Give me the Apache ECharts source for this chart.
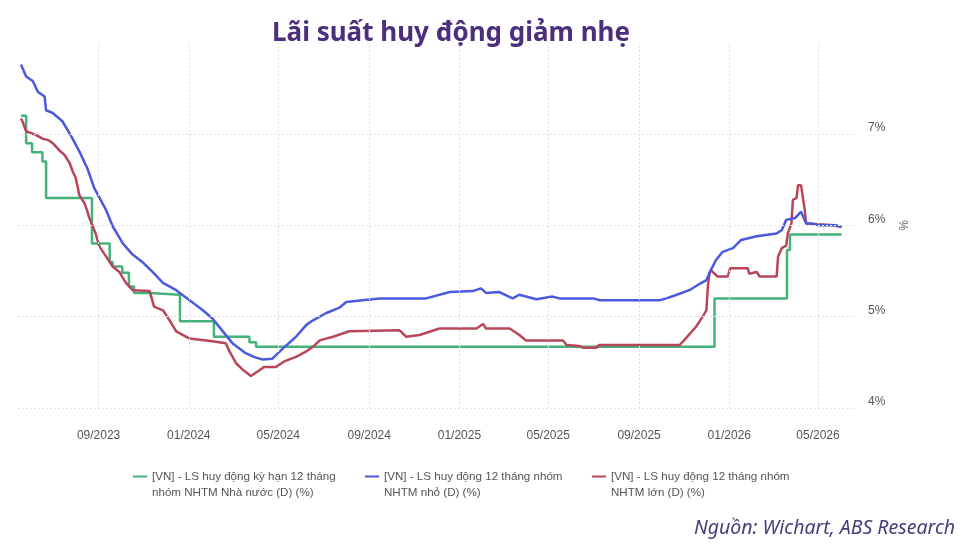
<!DOCTYPE html>
<html>
<head>
<meta charset="utf-8">
<script src="https://cdn.jsdelivr.net/npm/echarts@6/dist/echarts.min.js"></script>
<style>
html,body{margin:0;padding:0;background:#fff;}
#chart{width:977px;height:556px;}
</style>
</head>
<body>
<div id="chart"></div>
<script>
const titleText = 'Lãi suất huy động giảm nhẹ';
const sourceText = 'Nguồn: Wichart, ABS Research';
const seriesNames = [
  '[VN] - LS huy động kỳ hạn 12 tháng\nnhóm NHTM Nhà nước (D) (%)',
  '[VN] - LS huy động 12 tháng nhóm\nNHTM nhỏ (D) (%)',
  '[VN] - LS huy động 12 tháng nhóm\nNHTM lớn (D) (%)'
];
const xTickLabels = ['09/2023','01/2024','05/2024','09/2024','01/2025','05/2025','09/2025','01/2026','05/2026'];
const yTicks = [4, 5, 6, 7];
const xMin = '2023-05-15';
const xMax = '2026-06-20';

// State-owned banks (step series)
const greenData = [
  ['2023-05-19',7.2],['2023-05-26',6.9],['2023-06-03',6.8],['2023-06-17',6.7],['2023-06-22',6.3],
  ['2023-08-23',5.8],['2023-09-16',5.6],['2023-09-20',5.55],['2023-10-03',5.48],['2023-10-12',5.33],
  ['2023-10-19',5.26],['2023-11-09',5.24],['2023-12-20',4.95],['2024-02-04',4.78],['2024-03-23',4.72],
  ['2024-04-01',4.67],['2025-12-12',5.2],['2026-03-20',5.73],['2026-03-24',5.9],['2026-06-02',5.9]
];
// Small banks
const blueData = [
  ['2023-05-19',7.76],['2023-05-26',7.63],['2023-06-04',7.58],['2023-06-11',7.46],['2023-06-20',7.41],
  ['2023-06-22',7.26],['2023-07-01',7.23],['2023-07-14',7.14],['2023-07-25',6.99],['2023-08-06',6.81],
  ['2023-08-17',6.62],['2023-08-26',6.41],['2023-09-05',6.26],['2023-09-11',6.17],['2023-09-20',5.99],
  ['2023-10-04',5.8],['2023-10-17',5.68],['2023-10-30',5.6],['2023-11-13',5.49],['2023-11-27',5.37],
  ['2023-12-15',5.29],['2024-01-02',5.18],['2024-01-20',5.07],['2024-02-02',4.98],['2024-02-15',4.85],
  ['2024-02-29',4.71],['2024-03-18',4.6],['2024-03-29',4.56],['2024-04-10',4.53],['2024-04-23',4.54],
  ['2024-05-07',4.65],['2024-05-25',4.78],['2024-06-08',4.91],['2024-06-17',4.96],['2024-07-05',5.04],
  ['2024-07-23',5.1],['2024-08-01',5.16],['2024-08-23',5.18],['2024-09-15',5.2],['2024-11-17',5.2],
  ['2024-12-19',5.27],['2025-01-19',5.28],['2025-01-30',5.31],['2025-02-06',5.26],['2025-02-24',5.27],
  ['2025-03-14',5.2],['2025-03-23',5.24],['2025-04-15',5.19],['2025-05-07',5.22],['2025-05-16',5.2],
  ['2025-07-01',5.2],['2025-07-10',5.18],['2025-09-29',5.18],['2025-10-08',5.2],['2025-10-22',5.24],
  ['2025-11-08',5.29],['2025-11-22',5.36],['2025-12-01',5.4],['2025-12-07',5.51],['2025-12-14',5.62],
  ['2025-12-23',5.71],['2026-01-06',5.75],['2026-01-17',5.84],['2026-02-07',5.88],['2026-03-06',5.91],
  ['2026-03-13',5.95],['2026-03-19',6.06],['2026-03-31',6.08],['2026-04-08',6.15],['2026-04-15',6.02],
  ['2026-04-22',6.02],['2026-05-03',6.0],['2026-05-26',6.0],['2026-06-02',5.98]
];
// Large banks
const redData = [
  ['2023-05-19',7.17],['2023-05-21',7.14],['2023-05-26',7.03],['2023-06-08',6.99],['2023-06-17',6.95],
  ['2023-06-26',6.93],['2023-07-01',6.9],['2023-07-10',6.82],['2023-07-17',6.77],['2023-07-24',6.68],
  ['2023-07-28',6.59],['2023-08-01',6.52],['2023-08-06',6.33],['2023-08-13',6.24],['2023-08-17',6.15],
  ['2023-08-19',6.09],['2023-08-28',5.91],['2023-09-02',5.77],['2023-09-11',5.66],['2023-09-20',5.55],
  ['2023-09-29',5.49],['2023-10-08',5.37],['2023-10-17',5.29],['2023-11-09',5.28],['2023-11-15',5.11],
  ['2023-11-27',5.07],['2023-12-06',4.96],['2023-12-15',4.84],['2024-01-02',4.76],['2024-02-02',4.73],
  ['2024-02-20',4.71],['2024-02-25',4.62],['2024-03-05',4.49],['2024-03-14',4.42],['2024-03-25',4.35],
  ['2024-04-03',4.4],['2024-04-12',4.45],['2024-04-28',4.45],['2024-05-09',4.51],['2024-05-25',4.56],
  ['2024-06-08',4.62],['2024-06-17',4.67],['2024-06-26',4.74],['2024-07-14',4.78],['2024-08-05',4.84],
  ['2024-10-12',4.85],['2024-10-21',4.78],['2024-11-08',4.8],['2024-12-05',4.87],['2025-01-24',4.87],
  ['2025-02-02',4.92],['2025-02-06',4.87],['2025-03-10',4.87],['2025-03-23',4.8],['2025-04-01',4.74],
  ['2025-05-21',4.74],['2025-05-26',4.69],['2025-06-12',4.68],['2025-06-17',4.66],['2025-07-05',4.66],
  ['2025-07-09',4.69],['2025-10-26',4.69],['2025-11-04',4.77],['2025-11-17',4.89],['2025-11-26',5.0],
  ['2025-12-01',5.07],['2025-12-03',5.33],['2025-12-05',5.47],['2025-12-07',5.51],['2025-12-16',5.44],
  ['2025-12-30',5.44],['2026-01-02',5.53],['2026-01-26',5.53],['2026-01-28',5.47],['2026-02-07',5.49],
  ['2026-02-11',5.44],['2026-03-06',5.44],['2026-03-08',5.66],['2026-03-13',5.75],['2026-03-19',5.78],
  ['2026-03-21',5.91],['2026-03-26',6.02],['2026-03-28',6.28],['2026-04-02',6.3],['2026-04-04',6.44],
  ['2026-04-08',6.44],['2026-04-13',6.17],['2026-04-15',6.02],['2026-04-17',6.0],['2026-05-24',6.0],
  ['2026-05-30',5.98]
];
const colors = ['#45b27a', '#4b59dd', '#b8465b'];

function dateTime(s) {
  const p = s.split('-');
  return new Date(+p[0], +p[1] - 1, +p[2]).getTime();
}
function tickTime(label) {
  const p = label.split('/');
  return new Date(+p[1], +p[0] - 1, 1).getTime();
}
function toPoints(arr) {
  return arr.map(d => [dateTime(d[0]), d[1]]);
}
const xTickValues = xTickLabels.map(tickTime);

const chart = echarts.init(document.getElementById('chart'));
const labelFont = 'Liberation Sans, Arial, sans-serif';
const gridLine = { color: '#e2e2e2', width: 1, type: [2, 2] };

const legendLefts = [133, 365, 592];
const option = {
  animation: false,
  backgroundColor: '#ffffff',
  title: {
    text: titleText,
    left: 446,
    textAlign: 'center',
    top: 16,
    textStyle: { fontFamily: 'Noto Sans, Lato, sans-serif', fontSize: 26, fontWeight: 'bold', color: '#4b2e7c' }
  },
  legend: seriesNames.map((n, i) => ({
    data: [n],
    left: legendLefts[i],
    top: 452.5,
    padding: 0,
    icon: 'rect',
    itemWidth: 14,
    itemHeight: 2,
    formatter: function (name) { return '\n' + name; },
    textStyle: { fontFamily: labelFont, fontSize: 11.6, color: '#555', lineHeight: 16 }
  })),
  graphic: [{
    type: 'text',
    right: 22,
    top: 518,
    style: { text: sourceText, fontFamily: 'Noto Sans, Lato, sans-serif', fontStyle: 'italic', fontSize: 19.5, fill: '#4a3b7c' }
  }],
  grid: { left: 18, right: 122, top: 42.7, bottom: 148 },
  xAxis: {
    type: 'value',
    min: dateTime(xMin),
    max: dateTime(xMax),
    axisLine: { show: false },
    axisTick: { show: false },
    splitLine: { show: false },
    axisLabel: {
      customValues: xTickValues,
      margin: 22,
      color: '#555',
      fontFamily: labelFont,
      fontSize: 12,
      formatter: function (v) {
        const i = xTickValues.indexOf(v);
        return i >= 0 ? xTickLabels[i] : '';
      }
    }
  },
  yAxis: {
    type: 'value',
    position: 'right',
    min: 4,
    max: 8,
    interval: 1,
    name: '%',
    nameLocation: 'middle',
    nameRotate: -90,
    nameGap: 38,
    nameTextStyle: { color: '#666', fontFamily: labelFont, fontSize: 12 },
    axisLine: { show: false },
    axisTick: { show: false },
    splitLine: { show: false },
    axisLabel: {
      customValues: yTicks,
      margin: 13,
      color: '#555',
      fontFamily: labelFont,
      fontSize: 12,
      verticalAlign: 'bottom',
      formatter: '{value}%'
    }
  },
  series: [
    {
      name: 'grid',
      type: 'line',
      data: [],
      z: 1,
      silent: true,
      markLine: {
        silent: true,
        symbol: 'none',
        label: { show: false },
        lineStyle: gridLine,
        data: yTicks.map(v => ({ yAxis: v })).concat(xTickValues.map(v => ({ xAxis: v })))
      }
    },
    {
      name: seriesNames[0], type: 'line', data: toPoints(greenData), step: 'end', showSymbol: false, z: 3,
      itemStyle: { color: colors[0] }, lineStyle: { color: colors[0], width: 2.5 }
    },
    {
      name: seriesNames[1], type: 'line', data: toPoints(blueData), showSymbol: false, z: 4,
      itemStyle: { color: colors[1] }, lineStyle: { color: colors[1], width: 2.5 }
    },
    {
      name: seriesNames[2], type: 'line', data: toPoints(redData), showSymbol: false, z: 3,
      itemStyle: { color: colors[2] }, lineStyle: { color: colors[2], width: 2.5 }
    }
  ]
};
chart.setOption(option);
</script>
</body>
</html>
